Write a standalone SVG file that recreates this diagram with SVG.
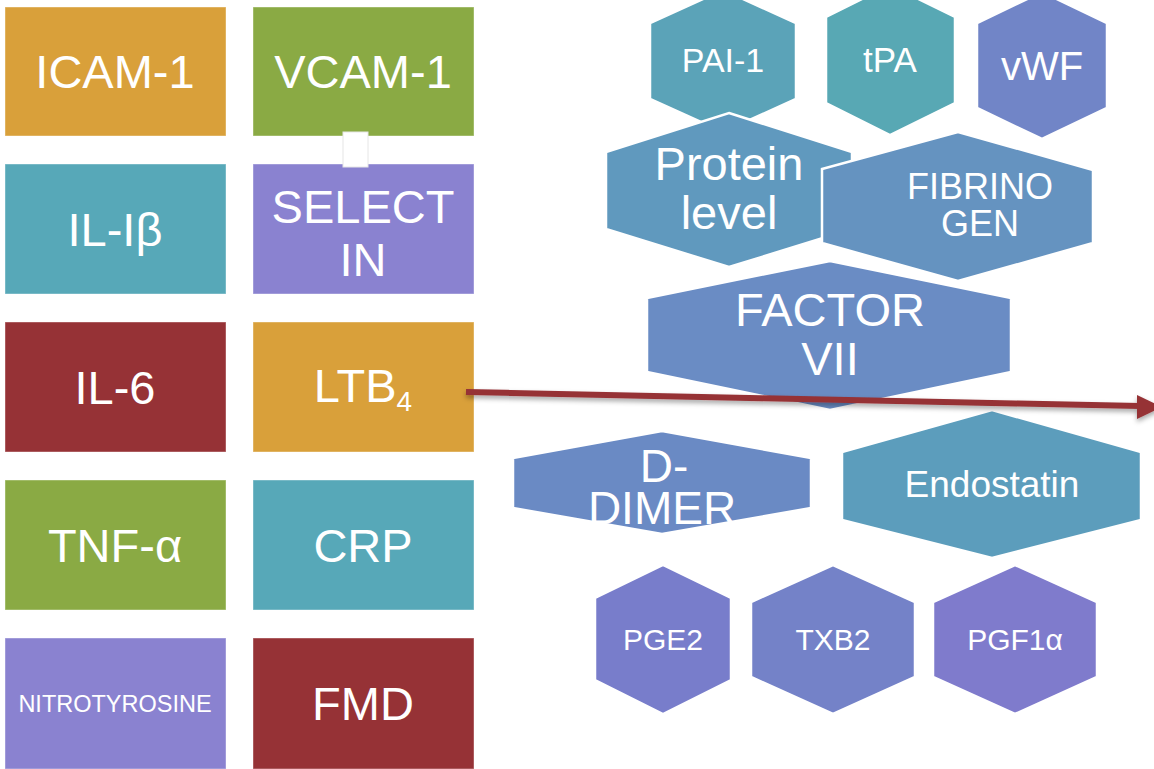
<svg xmlns="http://www.w3.org/2000/svg" width="1154" height="769" viewBox="0 0 1154 769">
<defs>
<style>
.lbl{font-family:"Liberation Sans",Arial,sans-serif;fill:#fff;text-anchor:middle}
.box{stroke:#ffffff;stroke-opacity:0.4;stroke-width:1}
.hex{stroke:#fff;stroke-width:2.5;stroke-linejoin:miter}
</style>
<filter id="sh" x="-5%" y="-200%" width="110%" height="500%">
<feDropShadow dx="0" dy="3" stdDeviation="2.5" flood-color="#000" flood-opacity="0.35"/>
</filter>
</defs>
<rect width="1154" height="769" fill="#fff"/>
<g id="icam"><rect class="box" x="5" y="7" width="221" height="129" fill="#D9A03A"/><text class="lbl" x="115" y="88" font-size="47">ICAM-1</text></g>
<g id="vcam"><rect class="box" x="253" y="7" width="221" height="129" fill="#8AAA44"/><text class="lbl" x="363" y="88" font-size="47">VCAM-1</text></g>
<g id="il1b"><rect class="box" x="5" y="164" width="221" height="130" fill="#57A8B8"/><text class="lbl" x="115" y="246" font-size="47">IL-Iβ</text></g>
<g id="selectin"><rect class="box" x="253" y="164" width="221" height="130" fill="#8A82D0"/><text class="lbl" x="363" y="223" font-size="47">SELECT</text><text class="lbl" x="363" y="276" font-size="47">IN</text></g>
<rect x="343" y="132" width="25" height="35" fill="#fff" stroke="#e6e6e6" stroke-width="1"/>
<g id="il6"><rect class="box" x="5" y="322" width="221" height="130" fill="#963236"/><text class="lbl" x="115" y="404" font-size="47">IL-6</text></g>
<g id="ltb4"><rect class="box" x="253" y="322" width="221" height="130" fill="#D9A03A"/><text class="lbl" x="363" y="402" font-size="47">LTB<tspan font-size="28" dy="9">4</tspan></text></g>
<g id="tnfa"><rect class="box" x="5" y="480" width="221" height="130" fill="#8AAA44"/><text class="lbl" x="115" y="562" font-size="47">TNF-α</text></g>
<g id="crp"><rect class="box" x="253" y="480" width="221" height="130" fill="#57A8B8"/><text class="lbl" x="363" y="562" font-size="47">CRP</text></g>
<g id="nitro"><rect class="box" x="5" y="638" width="221" height="131" fill="#8A82D0"/><text class="lbl" x="115" y="712" font-size="23.5">NITROTYROSINE</text></g>
<g id="fmd"><rect class="box" x="253" y="638" width="221" height="131" fill="#963236"/><text class="lbl" x="363" y="720" font-size="47">FMD</text></g>

<g id="pai1"><polygon class="hex" points="723,-10 796,23 796,99 723,132 650,99 650,23" fill="#5BA3B8"/><text class="lbl" x="723" y="72" font-size="34">PAI-1</text></g>
<g id="tpa"><polygon class="hex" points="890,-15 955,17 955,103 890,135 826,103 826,17" fill="#58A8B4"/><text class="lbl" x="890" y="72" font-size="35">tPA</text></g>
<g id="vwf"><polygon class="hex" points="1042,-8 1107,23 1107,108 1042,139 977,108 977,23" fill="#7185C7"/><text class="lbl" x="1042" y="80" font-size="40">vWF</text></g>
<g id="protein"><polygon class="hex" points="729,113 852,152 852,229 729,267 606,229 606,152" fill="#6099BE"/><text class="lbl" x="729" y="180" font-size="47">Protein</text><text class="lbl" x="729" y="229" font-size="47">level</text></g>
<g id="fibrinogen"><polygon class="hex" points="958,132 1093,170 1093,243 958,281 822,243 822,169" fill="#6593C0"/><text class="lbl" x="980" y="199" font-size="36">FIBRINO</text><text class="lbl" x="980" y="236" font-size="36">GEN</text></g>
<g id="factor7"><polygon class="hex" points="830,261 1011,298 1011,372 830,410 647,372 647,298" fill="#6A8CC4"/><text class="lbl" x="830" y="326" font-size="47">FACTOR</text><text class="lbl" x="830" y="375" font-size="47">VII</text></g>
<g id="ddimer"><polygon class="hex" points="662,431 811,458 811,508 662,534 513,508 513,458" fill="#6A8AC4"/><text class="lbl" x="664" y="482" font-size="46">D-</text><text class="lbl" x="662" y="524" font-size="46">DIMER</text></g>
<g id="endostatin"><polygon class="hex" points="992,410 1141,452 1141,520 992,558 842,520 842,452" fill="#5C9DBC"/><text class="lbl" x="992" y="497" font-size="37">Endostatin</text></g>
<g id="pge2"><polygon class="hex" points="663,565 731,598 731,680 663,714 595,680 595,598" fill="#787DCB"/><text class="lbl" x="663" y="650" font-size="30">PGE2</text></g>
<g id="txb2"><polygon class="hex" points="833,565 915,602 915,677 833,714 751,677 751,602" fill="#7482C8"/><text class="lbl" x="833" y="650" font-size="30">TXB2</text></g>
<g id="pgf1a"><polygon class="hex" points="1015,565 1097,602 1097,677 1015,714 933,677 933,602" fill="#7F7BCC"/><text class="lbl" x="1015" y="650" font-size="30">PGF1α</text></g>

<g id="connectors" filter="url(#sh)">
<line x1="466" y1="392" x2="1140" y2="406" stroke="#963236" stroke-width="6"/>
<polygon points="1137,395 1162,407 1137,419" fill="#963236"/>
</g>
</svg>
